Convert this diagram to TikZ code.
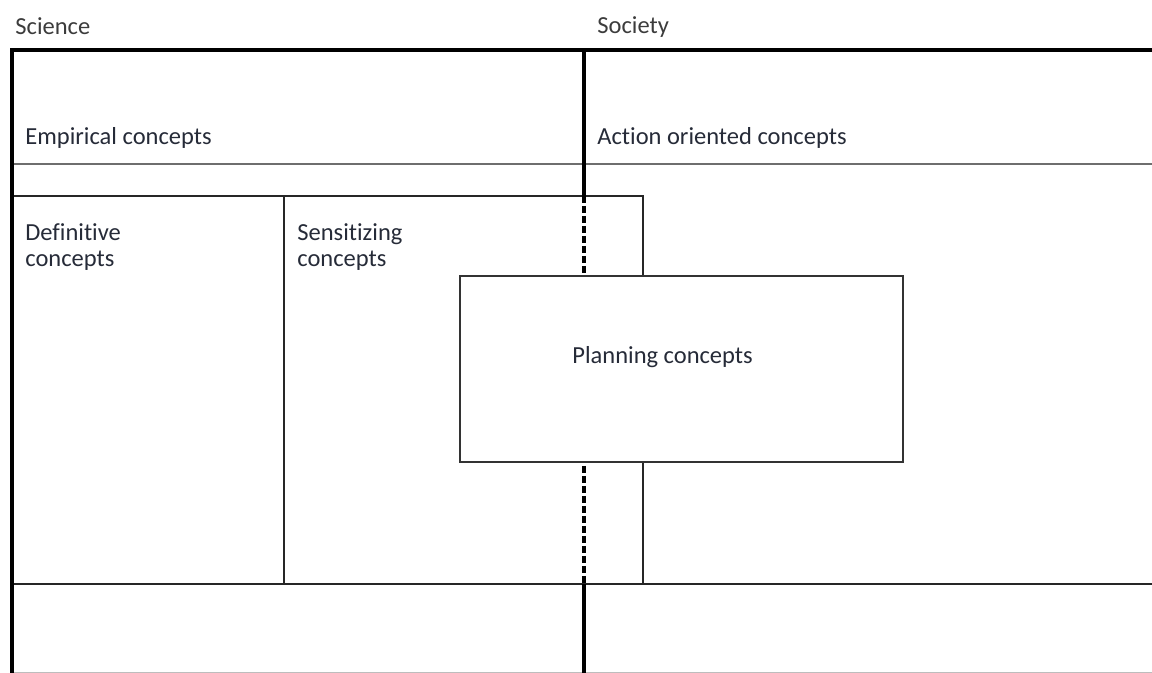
\documentclass[tikz,border=0pt]{standalone}
\usepackage{fontspec}
\setmainfont{Carlito}[RawFeature={-liga;-clig;-dlig}]
\definecolor{labeltext}{HTML}{262B38}
\definecolor{headtext}{HTML}{3C3C3C}
\definecolor{rulegray}{HTML}{6E6E6E}
\definecolor{edgegray}{HTML}{BDBDBD}
\begin{document}
\begin{tikzpicture}[x=0.5pt,y=-0.5pt,
  heavy/.style={line width=1.7pt,black},
  light/.style={line width=1.1pt,black!85},
  softrule/.style={line width=1.1pt,rulegray},
  dashdiv/.style={line width=1.7pt,black,dash pattern=on 3.6pt off 1.4pt},
  lbl/.style={font=\fontsize{12.25pt}{13.3pt}\selectfont,text=labeltext,inner sep=0pt,anchor=base west,align=left},
  head/.style={font=\fontsize{12.25pt}{13.3pt}\selectfont,text=headtext,inner sep=0pt,anchor=base west},
  planbox/.style={draw=black!80,line width=1.1pt,fill=white}]
\useasboundingbox (0,0) rectangle (1152,673);

% frame corners and division points
\coordinate (tl) at (12,50);
\coordinate (tr) at (1152,50);
\coordinate (bl) at (12,673);
\coordinate (mt) at (584,50);
\coordinate (mb) at (584,673);
\coordinate (ml) at (584,196);
\coordinate (mlow) at (584,584);

% horizontal bands
\draw[softrule] (12,164) -- (1152,164);
\draw[light] (12,196) -- (643,196) -- (643,584);
\draw[light] (284,196) -- (284,584);
\draw[light] (12,584) -- (1152,584);
\draw[line width=0.6pt,edgegray] (12,672.5) -- (1152,672.5);

% outer frame and the science / society divide
\draw[heavy] (bl) -- (tl) -- (tr);
\draw[heavy] (mt) -- (ml);
\draw[dashdiv] (ml) -- (mlow);
\draw[heavy] (mlow) -- (mb);

% planning concepts box lies across the divide
\node[planbox,minimum width=221.5pt,minimum height=93pt,inner sep=0pt] (plan) at (681.5,369) {};
\node[lbl] (plantxt) at (572,364) {Planning concepts};

% headings
\node[head] (science) at (15,35) {Science};
\node[head] (society) at (597,34) {Society};

% concept labels (multi-line nodes sit on the baseline of their last line)
\node[lbl] (emp) at (25,145) {Empirical concepts};
\node[lbl] (act) at (597,145) {Action oriented concepts};
\node[lbl] (def) at (25,267) {Definitive\\concepts};
\node[lbl] (sens) at (297,267) {Sensitizing\\concepts};
\end{tikzpicture}
\end{document}
